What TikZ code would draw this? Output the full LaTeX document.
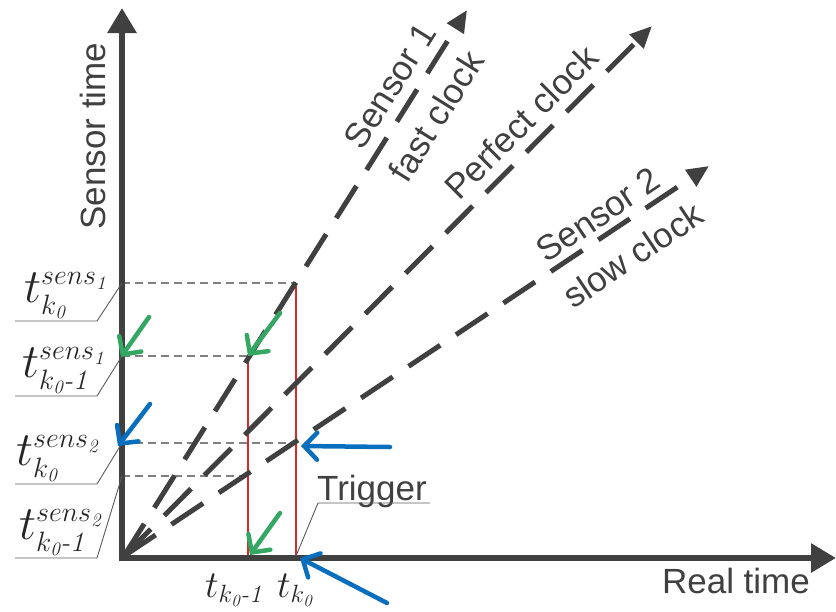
\RequirePackage{fix-cm}
\documentclass[tikz,border=0pt]{standalone}
\usepackage{amsmath}
\usepackage{fontspec}
\setsansfont{Liberation Sans}
\usetikzlibrary{arrows.meta}
\DeclareMathSizes{48}{48}{28}{19}
\DeclareMathSizes{38}{38}{25}{17}
\definecolor{axisgray}{RGB}{64,64,64}
\definecolor{guidegray}{RGB}{128,128,128}
\definecolor{leadgray}{RGB}{90,90,90}
\definecolor{redline}{RGB}{222,40,40}
\definecolor{greenarr}{RGB}{52,168,98}
\definecolor{bluearr}{RGB}{10,110,190}
\tikzset{
  axisline/.style={line width=6pt,color=axisgray,-{Triangle[length=25pt,width=28pt]}},
  clockline/.style={line width=5pt,color=axisgray,dash pattern=on 38pt off 19pt,-{Triangle[length=22pt,width=19pt]}},
  guide/.style={line width=1.3pt,color=guidegray,dash pattern=on 8pt off 5pt},
  leader/.style={line width=0.9pt,color=leadgray},
  redmark/.style={line width=2pt,color=redline},
  garrow/.style={line width=4.5pt,color=greenarr,line cap=round,-{Straight Barb[length=13pt,width=27pt,line cap=round]}},
  barrow/.style={line width=4.5pt,color=bluearr,line cap=round,-{Straight Barb[length=13pt,width=27pt,line cap=round]}},
  sanslbl/.style={font=\sffamily\fontsize{35}{35}\selectfont,text=axisgray,inner sep=0pt},
  mathlbl/.style={font=\fontsize{48}{48}\selectfont,text=black!85,inner sep=0pt,anchor=south west},
  botlbl/.style={font=\fontsize{38}{38}\selectfont,text=black!85,inner sep=0pt,anchor=south west},
}
\begin{document}
\begin{tikzpicture}[x=1pt,y=-1pt]
\useasboundingbox (0,0) rectangle (836,611);
% key coordinates
\coordinate (O) at (124,556);
\coordinate (Yb) at (122,561);
\coordinate (Yt) at (122,8);
\coordinate (Xl) at (119,558);
\coordinate (Xr) at (836,558);
\coordinate (F) at (467,10);
\coordinate (P) at (652,26);
\coordinate (S) at (709,166);
\coordinate (A1) at (296,283);
\coordinate (A2) at (248,356);
\coordinate (B1) at (296,443);
\coordinate (B2) at (248,476);
\coordinate (T0) at (296,556);
\coordinate (T1) at (248,556);
\coordinate (Y1) at (122,283);
\coordinate (Y2) at (122,356);
\coordinate (Y3) at (122,443);
\coordinate (Y4) at (122,476);
% guides
\draw[guide] (Y1) -- (A1);
\draw[guide] (Y2) -- (A2);
\draw[guide] (Y3) -- (B1);
\draw[guide] (Y4) -- (B2);
% red marks
\draw[redmark] (A1) -- (T0);
\draw[redmark] (A2) -- (T1);
% clock lines
\draw[clockline] (O) -- (F);
\draw[clockline] (O) -- (P);
\draw[clockline] (O) -- (S);
% axes
\draw[axisline] (Yb) -- (Yt);
\draw[axisline] (Xl) -- (Xr);
% axis labels
\node[sanslbl,rotate=90,anchor=base] (ylab) at (105,136) {Sensor time};
\node[sanslbl,anchor=base] (xlab) at (736,593) {Real time};
\node[sanslbl,anchor=base west] (trig) at (317,500) {Trigger};
% clock labels
\node[sanslbl,rotate=57.9] (s1) at (390,86) {Sensor 1};
\node[sanslbl,rotate=57.9] (fc) at (436,116) {fast clock};
\node[sanslbl,rotate=45] (pc) at (521,122) {Perfect clock};
\node[sanslbl,rotate=33.8] (s2) at (598,215) {Sensor 2};
\node[sanslbl,rotate=33.8] (sc) at (633,255) {slow clock};
% leaders
\coordinate (L1a) at (15,321); \coordinate (L1b) at (97,321);
\coordinate (L2a) at (15,396); \coordinate (L2b) at (97,396);
\coordinate (L3a) at (15,484); \coordinate (L3b) at (97,484);
\coordinate (L4a) at (15,558); \coordinate (L4b) at (97,558);
\draw[leader] (L1a) -- (L1b) -- (Y1);
\draw[leader] (L2a) -- (L2b) -- (Y2);
\draw[leader] (L3a) -- (L3b) -- (Y3);
\draw[leader] (L4a) -- (L4b) -- (Y4);
\coordinate (Tga) at (318,503); \coordinate (Tgb) at (430,503);
\draw[leader] (T0) -- (Tga) -- (Tgb);
% tick labels
\node[mathlbl] (l1) at (24,319) {$t^{sens_{\mathit{1}}}_{k_{\mathit{0}}}$};
\node[mathlbl] (l2) at (22,394) {$t^{sens_{\mathit{1}}}_{k_{\mathit{0}}\text{\itshape -}\mathit{1}}$};
\node[mathlbl] (l3) at (16,482) {$t^{sens_{\mathit{2}}}_{k_{\mathit{0}}}$};
\node[mathlbl] (l4) at (19,556) {$t^{sens_{\mathit{2}}}_{k_{\mathit{0}}\text{\itshape -}\mathit{1}}$};
\node[botlbl] (b1) at (205,607) {$t_{k_{\mathit{0}}\text{\itshape -}\mathit{1}}$};
\node[botlbl] (b0) at (277,607) {$t_{k_{\mathit{0}}}$};
% green arrows
\coordinate (g1s) at (149,317);
\coordinate (g2s) at (280,313);
\coordinate (g3s) at (280,513);
\draw[garrow] (g1s) -- (121,357);
\draw[garrow] (g2s) -- (A2);
\draw[garrow] (g3s) -- (250,555);
% blue arrows
\coordinate (b1s) at (150,404);
\coordinate (b2s) at (390,447);
\coordinate (b3s) at (387,603);
\draw[barrow] (b1s) -- (118,446);
\draw[barrow] (b2s) -- (301,446);
\draw[barrow] (b3s) -- (300,558);
\end{tikzpicture}
\end{document}
